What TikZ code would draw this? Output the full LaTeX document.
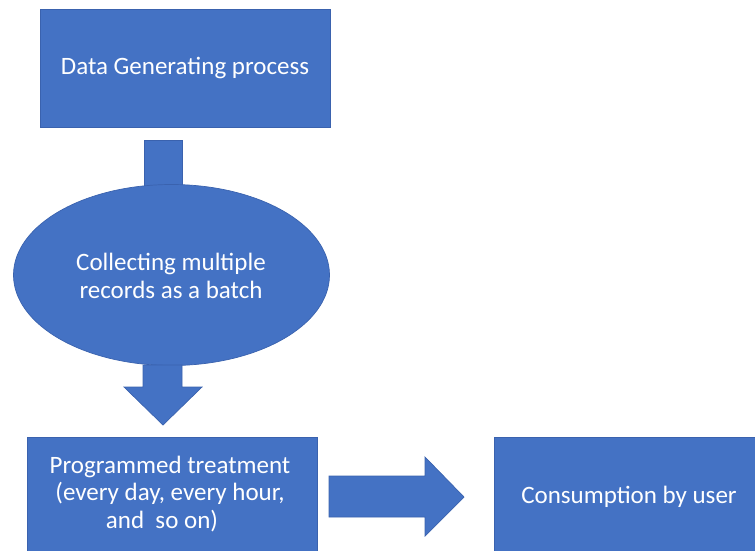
\documentclass[tikz,border=0pt]{standalone}
\usepackage{fontspec}
\setmainfont{Carlito}
\usetikzlibrary{shapes.geometric}
\definecolor{boxblue}{HTML}{4472C4}
\definecolor{edgeblue}{HTML}{3A62AE}
\begin{document}
\begin{tikzpicture}[x=1pt,y=-1pt,
  shapefill/.style={fill=boxblue,draw=edgeblue,line width=0.7pt},
  label/.style={text=white,font=\fontsize{25}{27.5}\selectfont,align=center}]
\useasboundingbox (0,0) rectangle (755,550);
\clip (0,0) rectangle (755,550);
% process boxes
\draw[shapefill] (40,9) rectangle (330,127);
\node[label] (gen) at (185,68) {Data Generating process};
% short stub under the first box
\draw[shapefill] (144,140) rectangle (182,200);
% batch collection
\draw[shapefill] (171.5,275) ellipse [x radius=158, y radius=90.5];
\node[label] (batch) at (171,276) {Collecting multiple\\records as a batch};
% downward block arrow
\draw[shapefill] (143,365) -- (182,365) -- (182,387) -- (202,387) -- (163,425)
  -- (124,387) -- (143,387) -- cycle;
% scheduled treatment
\draw[shapefill] (27,437) rectangle (317,560);
\node[label] (prog) at (170,494) {Programmed treatment\\(every day, every hour,\\[0pt]\hspace*{-16pt}and\ \ so on)};
% rightward block arrow
\draw[shapefill] (329,476) -- (425,476) -- (425,457) -- (464,497) -- (425,536)
  -- (425,517) -- (329,517) -- cycle;
% consumption
\draw[shapefill] (494,437) rectangle (765,560);
\node[label] (user) at (629,497) {Consumption by user};
\end{tikzpicture}
\end{document}
